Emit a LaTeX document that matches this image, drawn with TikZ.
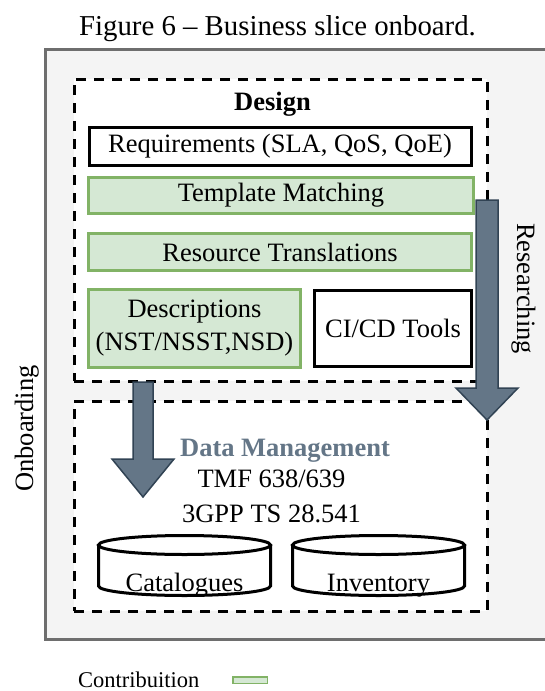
\documentclass[tikz,border=0pt]{standalone}
\usepackage{fontspec}
\setmainfont{Liberation Serif}
\definecolor{grnfill}{HTML}{D5E8D4}
\definecolor{grnline}{HTML}{82B366}
\definecolor{arrfill}{HTML}{647687}
\definecolor{arrline}{HTML}{314354}
\definecolor{outfill}{HTML}{F4F4F4}
\definecolor{outline}{HTML}{6E6E6E}
\begin{document}
\begin{tikzpicture}[x=1pt,y=-1pt,
  big/.style={font=\fontsize{26.5}{33}\selectfont},
  blackbox/.style={draw=black, line width=3pt, fill=white, inner sep=0pt, align=center, big},
  greenbox/.style={draw=grnline, line width=3pt, fill=grnfill, inner sep=0pt, align=center, big},
  dashbox/.style={draw=black, line width=3pt, dash pattern=on 10pt off 8pt, fill=white, inner sep=0pt},
  blockarrow/.style={fill=arrfill, draw=arrline, line width=1.5pt, line join=miter},
  dbshape/.style={draw=black, line width=3pt, fill=white},
  plain/.style={big, inner sep=0pt, anchor=base}]
\useasboundingbox (0,0) rectangle (544,691);
% title
\node[font=\fontsize{28.8}{33}\selectfont, inner sep=0pt, anchor=base] (title) at (277.5,35) {Figure 6 -- Business slice onboard.};
% outer onboarding box
\fill[outfill] (45,49) rectangle (546,639);
\draw[outline, line width=3pt] (548,49) -- (45,49) -- (45,639) -- (548,639);
\node[plain, rotate=90] (onb) at (33,428.5) {Onboarding};
\node[plain, rotate=-90] (res) at (517,288.5) {Researching};
% dashed areas
\node[dashbox, minimum width=413pt, minimum height=302pt] (design) at (280.5,230) {};
\node[dashbox, minimum width=413pt, minimum height=210pt] (data) at (280.5,506) {};
% design content
\node[plain, font=\fontsize{26.5}{33}\selectfont\bfseries] (dlabel) at (272.5,110) {Design};
\node[blackbox, minimum width=382pt, minimum height=38pt] (req) at (280,146.5) {Requirements (SLA, QoS, QoE)};
\node[greenbox, minimum width=385pt, minimum height=36pt] (tmpl) at (281,195.5) {Template Matching};
\node[greenbox, minimum width=383pt, minimum height=37pt] (restr) at (280,252) {Resource Translations};
\node[greenbox, minimum width=212pt, minimum height=78pt] (desc) at (194.5,328.5) {Descriptions\\(NST/NSST,NSD)};
\node[blackbox, minimum width=157pt, minimum height=76pt] (cicd) at (393,328.5) {CI/CD Tools};
% data management content
\node[plain, text=arrfill, font=\fontsize{26.5}{33}\selectfont\bfseries] (dm) at (285,456) {Data Management};
\node[plain] (tmf) at (271.5,487) {TMF 638/639};
\node[plain] (gpp) at (271.5,522) {3GPP TS 28.541};
% cylinders
\draw[dbshape] (98.5,545) -- (98.5,586) arc[start angle=180, end angle=360, x radius=86pt, y radius=9.5pt] -- (270.5,545);
\draw[dbshape] (184.5,545) circle[x radius=86pt, y radius=9.5pt];
\node[plain] (cat) at (184.5,591) {Catalogues};
\draw[dbshape] (292.5,545) -- (292.5,586) arc[start angle=180, end angle=360, x radius=86pt, y radius=9.5pt] -- (464.5,545);
\draw[dbshape] (378.5,545) circle[x radius=86pt, y radius=9.5pt];
\node[plain] (inv) at (378.5,591) {Inventory};
% block arrows
\draw[blockarrow] (476,200) -- (498,200) -- (498,388) -- (518,388) -- (487,420) -- (456,388) -- (476,388) -- cycle;
\draw[blockarrow] (133,382) -- (153,382) -- (153,459) -- (174,459) -- (143,497) -- (112,459) -- (133,459) -- cycle;
% legend
\node[font=\fontsize{22.5}{26}\selectfont, inner sep=0pt, anchor=base west] (leg) at (78,687) {Contribuition};
\draw[draw=grnline, fill=grnfill, line width=1.5pt] (232.75,676.75) rectangle (267.25,683.25);
\end{tikzpicture}
\end{document}
